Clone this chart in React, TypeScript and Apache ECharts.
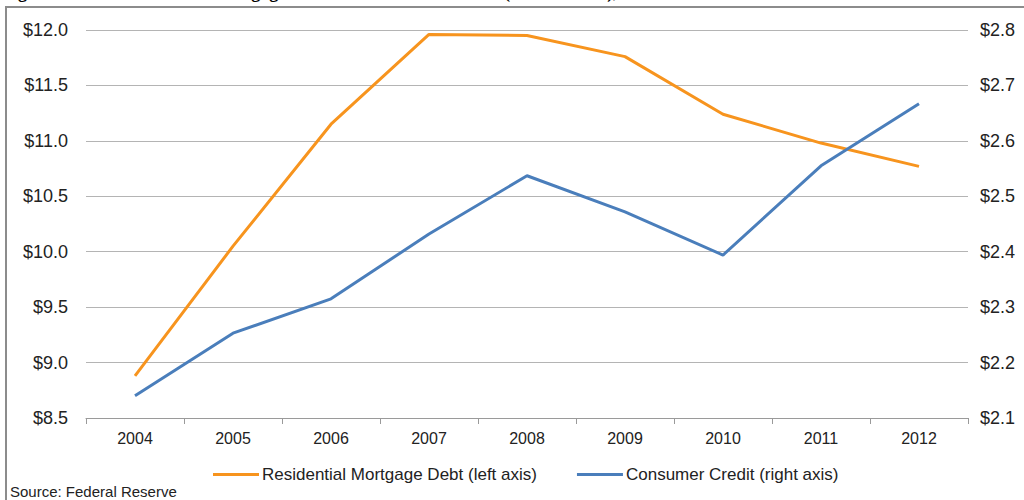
import React, { useEffect, useRef } from "react";
import * as echarts from "echarts";

const years = ["2004", "2005", "2006", "2007", "2008", "2009", "2010", "2011", "2012"];
const mortgageDebt = [8.88, 10.05, 11.15, 11.96, 11.95, 11.76, 11.24, 10.98, 10.77];
const consumerCredit = [2.14, 2.253, 2.315, 2.432, 2.537, 2.472, 2.394, 2.555, 2.667];
const titleText = "Figure 3 \u2013 U.S. Residential Mortgage Debt and Consumer Credit (in $ Trillions), 2004-2012";
const sourceText = "Source: Federal Reserve";

export default function App() {
  const ref = useRef<HTMLDivElement>(null);
  useEffect(() => {
    document.body.style.margin = "0";
    const chart = echarts.init(ref.current!, undefined, { renderer: "svg" });
    const font = "Liberation Sans, Arial, sans-serif";
    chart.setOption({
      animation: false,
      backgroundColor: "#ffffff",
      textStyle: { fontFamily: font },
      graphic: [
        {
          type: "rect",
          shape: { x: 6, y: 7, width: 1200, height: 700 },
          style: { fill: "none", stroke: "#8c8c8c", lineWidth: 2 },
          silent: true,
          z: 0,
        },
        {
          type: "text",
          x: 2,
          y: 1,
          style: {
            text: titleText,
            font: "bold 18px 'Liberation Serif', 'Times New Roman', serif",
            fill: "#000",
            verticalAlign: "bottom",
          },
        },
        {
          type: "text",
          x: 10,
          y: 491,
          style: {
            text: sourceText,
            font: "15px " + font,
            fill: "#222",
            verticalAlign: "middle",
          },
        },
      ],
      legend: {
        bottom: 12,
        left: 208,
        itemWidth: 46,
        itemHeight: 3,
        itemGap: 40,
        icon: "rect",
        textStyle: { fontSize: 17, color: "#222", fontFamily: font, padding: [0, 0, 0, -2] },
        data: ["Residential Mortgage Debt (left axis)", "Consumer Credit (right axis)"],
      },
      grid: { left: 86, right: 56, top: 30, bottom: 82, containLabel: false },
      xAxis: {
        type: "category",
        data: years,
        boundaryGap: true,
        axisLine: { show: true, lineStyle: { color: "#9a9a9a", width: 1 } },
        axisTick: { show: true, length: 6, lineStyle: { color: "#9a9a9a" } },
        axisLabel: { fontSize: 16, color: "#222", margin: 12 },
      },
      yAxis: [
        {
          type: "value",
          min: 8.5,
          max: 12,
          interval: 0.5,
          position: "left",
          axisLine: { show: false },
          axisTick: { show: false },
          splitLine: { show: true, lineStyle: { color: "#b4b4b4", width: 1 } },
          axisLabel: {
            fontSize: 18,
            color: "#222",
            margin: 18,
            formatter: (v: number) => "$" + v.toFixed(1),
          },
        },
        {
          type: "value",
          min: 2.1,
          max: 2.8,
          interval: 0.1,
          position: "right",
          axisLine: { show: false },
          axisTick: { show: false },
          splitLine: { show: false },
          axisLabel: {
            fontSize: 18,
            color: "#222",
            margin: 12,
            formatter: (v: number) => "$" + v.toFixed(1),
          },
        },
      ],
      series: [
        {
          name: "Residential Mortgage Debt (left axis)",
          type: "line",
          yAxisIndex: 0,
          data: mortgageDebt,
          symbol: "none",
          color: "#F7941E",
          lineStyle: { width: 3, color: "#F7941E" },
        },
        {
          name: "Consumer Credit (right axis)",
          type: "line",
          yAxisIndex: 1,
          data: consumerCredit,
          symbol: "none",
          color: "#4A7EBB",
          lineStyle: { width: 3, color: "#4A7EBB" },
        },
      ],
    });
    return () => chart.dispose();
  }, []);
  return <div ref={ref} style={{ width: 1024, height: 500 }} />;
}
